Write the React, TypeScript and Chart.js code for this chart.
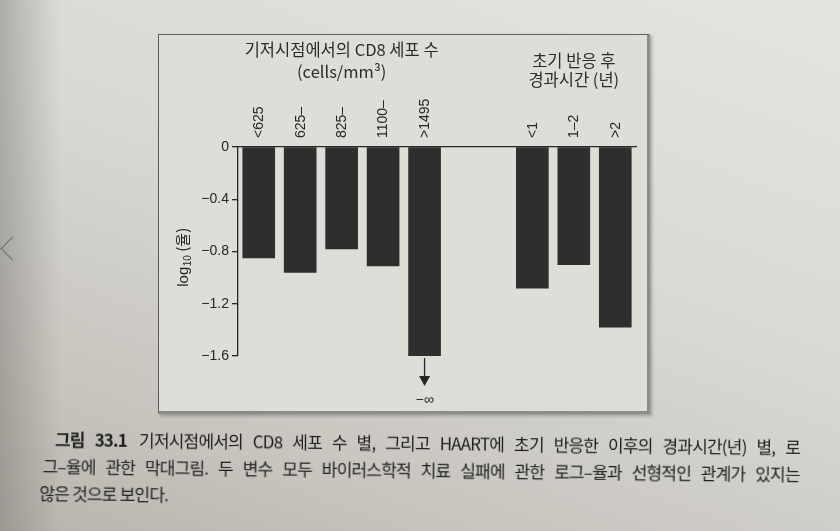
import React, { useEffect, useRef } from 'react';
import { Chart, registerables } from 'chart.js';

Chart.register(...registerables);

// ---- data ----
const cd8Labels = ['<625', '625–', '825–', '1100–', '>1495'];
const cd8Values = [-0.85, -0.96, -0.78, -0.91, -1.6];
const timeLabels = ['<1', '1–2', '>2'];
const timeValues = [-1.08, -0.9, -1.38];
const yTickValues = [0, -0.4, -0.8, -1.2, -1.6];
const cd8Title = ['기저시점에서의 CD8 세포 수', '(cells/mm³)'];
const timeTitle = ['초기 반응 후', '경과시간 (년)'];
const yTitleParts = ['log', '10', ' (율)'];
const infinityLabel = '−∞';
const captionLead = '그림 33.1';
const captionLines = [
  '기저시점에서의 CD8 세포 수 별, 그리고 HAART에 초기 반응한 이후의 경과시간(년) 별, 로',
  '그–율에 관한 막대그림. 두 변수 모두 바이러스학적 치료 실패에 관한 로그–율과 선형적인 관계가 있지는',
  '않은 것으로 보인다.',
];

// layout constant: empty space between the two groups (in bar slots)
const GROUP_GAP = 1.6;
const cd8Pos = cd8Labels.map((_, i) => i);
const timePos = timeLabels.map((_, j) => cd8Labels.length + GROUP_GAP + j);
const allPos = [...cd8Pos, ...timePos];
const allLabels = [...cd8Labels, ...timeLabels];
const allValues = [...cd8Values, ...timeValues];

const fmt = (v: number) => (Math.abs(v) < 1e-9 ? '0' : '−' + Math.abs(v).toFixed(1));

const INK = '#262626';
const BAR = '#2e2e2e';
const SANS = '"Liberation Sans", Arial, sans-serif';
const KR = '"Noto Sans CJK KR", "Noto Sans", sans-serif';

const decorPlugin = {
  id: 'decor',
  afterDraw(chart: any) {
    const { ctx, chartArea } = chart;
    const xs = chart.scales.x;
    const ys = chart.scales.y;
    ctx.save();

    // category labels, rotated, just above the zero line
    ctx.fillStyle = INK;
    ctx.font = `14px ${SANS}`;
    ctx.textAlign = 'left';
    ctx.textBaseline = 'middle';
    allPos.forEach((p, i) => {
      ctx.save();
      ctx.translate(xs.getPixelForValue(p) + 0.5, chartArea.top - 9);
      ctx.rotate(-Math.PI / 2);
      ctx.fillText(allLabels[i], 0, 0);
      ctx.restore();
    });

    // group titles
    ctx.fillStyle = '#2c2c2c';
    ctx.textAlign = 'center';
    ctx.textBaseline = 'middle';
    ctx.font = `16.5px ${KR}`;
    const c1 = xs.getPixelForValue(cd8Pos.reduce((a, b) => a + b, 0) / cd8Pos.length);
    ctx.fillText(cd8Title[0], c1, chartArea.top - 97);
    ctx.fillText(cd8Title[1], c1, chartArea.top - 75);
    const c2 = xs.getPixelForValue(timePos.reduce((a, b) => a + b, 0) / timePos.length);
    ctx.fillText(timeTitle[0], c2, chartArea.top - 86);
    ctx.fillText(timeTitle[1], c2, chartArea.top - 67);

    // y-axis title (rotated)
    ctx.fillStyle = INK;
    ctx.save();
    ctx.translate(chartArea.left - 55, (chartArea.top + chartArea.bottom) / 2 + 6);
    ctx.rotate(-Math.PI / 2);
    ctx.textAlign = 'left';
    ctx.textBaseline = 'alphabetic';
    ctx.font = `15px ${SANS}`;
    const w0 = ctx.measureText(yTitleParts[0]).width;
    ctx.font = `10px ${SANS}`;
    const w1 = ctx.measureText(yTitleParts[1]).width;
    ctx.font = `15px ${KR}`;
    const w2 = ctx.measureText(yTitleParts[2]).width;
    let x = -(w0 + w1 + w2) / 2;
    ctx.font = `15px ${SANS}`;
    ctx.fillText(yTitleParts[0], x, 5);
    x += w0 + 0.5;
    ctx.font = `10px ${SANS}`;
    ctx.fillText(yTitleParts[1], x, 8);
    x += w1;
    ctx.font = `15px ${KR}`;
    ctx.fillText(yTitleParts[2], x, 5);
    ctx.restore();

    // arrow to −∞ below the last CD8 bar
    const idx = cd8Values.length - 1;
    const ax = xs.getPixelForValue(cd8Pos[idx]);
    const ay = ys.getPixelForValue(cd8Values[idx]);
    ctx.strokeStyle = INK;
    ctx.lineWidth = 1.3;
    ctx.beginPath();
    ctx.moveTo(ax, ay + 2);
    ctx.lineTo(ax, ay + 22);
    ctx.stroke();
    ctx.beginPath();
    ctx.moveTo(ax - 5.5, ay + 20);
    ctx.lineTo(ax + 5.5, ay + 20);
    ctx.lineTo(ax, ay + 30);
    ctx.closePath();
    ctx.fill();
    ctx.font = `14px ${SANS}`;
    ctx.textAlign = 'center';
    ctx.textBaseline = 'middle';
    ctx.fillText(infinityLabel, ax, ay + 44);
    ctx.restore();
  },
};

function BarChart() {
  const ref = useRef<HTMLCanvasElement | null>(null);
  useEffect(() => {
    if (!ref.current) return;
    const chart = new Chart(ref.current, {
      type: 'bar',
      data: {
        datasets: [
          {
            data: allPos.map((p, i) => ({ x: p, y: allValues[i] })),
            backgroundColor: BAR,
            borderWidth: 0,
            barThickness: 32,
          },
        ],
      },
      options: {
        responsive: false,
        animation: false,
        events: [],
        layout: { padding: { left: 188, top: 67, right: 204, bottom: 175 } },
        plugins: { legend: { display: false }, tooltip: { enabled: false }, title: { display: false } },
        scales: {
          x: {
            type: 'linear',
            position: 'top',
            offset: false,
            min: allPos[0] - 0.5,
            max: allPos[allPos.length - 1] + 0.5,
            afterBuildTicks: (scale: any) => {
              scale.ticks = allPos.map((v) => ({ value: v }));
            },
            afterFit: (scale: any) => {
              scale.height = 80;
            },
            grid: { display: true, offset: false, drawOnChartArea: false, drawTicks: false, color: INK },
            border: { display: true, color: INK, width: 1.3 },
            ticks: { display: false },
          },
          y: {
            type: 'linear',
            min: yTickValues[yTickValues.length - 1],
            max: yTickValues[0],
            afterBuildTicks: (scale: any) => {
              scale.ticks = yTickValues.map((v) => ({ value: v }));
            },
            afterFit: (scale: any) => {
              scale.width = 50;
            },
            grid: { display: true, drawOnChartArea: false, drawTicks: true, tickLength: 6, color: INK, lineWidth: 1.3 },
            border: { display: true, color: INK, width: 1.3 },
            ticks: {
              padding: 3,
              color: INK,
              font: { family: SANS, size: 14 },
              callback: (v: any) => fmt(Number(v)),
            },
          },
        },
      },
      plugins: [decorPlugin],
    } as any);
    return () => chart.destroy();
  }, []);
  return (
    <canvas
      ref={ref}
      width={840}
      height={531}
      style={{ position: 'absolute', left: 0, top: 0, width: 840, height: 531 }}
    />
  );
}

export default function App() {
  const lineStyle = {
    position: 'absolute' as const,
    whiteSpace: 'nowrap' as const,
    textAlign: 'justify' as const,
    textAlignLast: 'justify' as any,
  };
  return (
    <div
      style={{
        position: 'fixed',
        left: 0,
        top: 0,
        width: 840,
        height: 531,
        overflow: 'hidden',
        background: 'linear-gradient(200deg, #e6e4e0 0%, #dad8d3 45%, #c6c4bd 80%, #b6b4ad 100%)',
      }}
    >
      {/* darker page edge at left */}
      <div
        style={{
          position: 'absolute',
          left: 0,
          top: 0,
          width: 60,
          height: 531,
          background: 'linear-gradient(90deg, rgba(120,118,112,0.45) 0%, rgba(120,118,112,0) 100%)',
        }}
      />
      {/* viewer chevron */}
      <div
        style={{
          position: 'absolute',
          left: 4,
          top: 240,
          width: 16,
          height: 16,
          borderLeft: '1.5px solid #6f6f6f',
          borderBottom: '1.5px solid #6f6f6f',
          transform: 'rotate(45deg)',
        }}
      />
      {/* figure frame */}
      <div
        style={{
          position: 'absolute',
          left: 158,
          top: 34,
          width: 488,
          height: 376,
          background: '#dfddd8',
          borderTop: '1.5px solid #5e5e5e',
          borderLeft: '1.5px solid #5e5e5e',
          borderRight: '3px solid #8d8c88',
          borderBottom: '3px solid #8d8c88',
          boxShadow: '2px 2px 3px rgba(60,60,60,0.35)',
        }}
      />
      <BarChart />
      {/* caption */}
      <div
        style={{
          position: 'absolute',
          left: 0,
          top: 0,
          width: 840,
          height: 531,
          transform: 'rotate(0.6deg)',
          transformOrigin: '40px 440px',
          fontFamily: KR,
          fontSize: 17,
          letterSpacing: '-0.8px',
          color: '#1f1f1f',
          lineHeight: '27px',
        }}
      >
        <div style={{ ...lineStyle, left: 55, top: 425, width: 745 }}>
          <span style={{ fontWeight: 700, marginRight: 12 }}>{captionLead}</span>
          {captionLines[0]}
        </div>
        <div style={{ ...lineStyle, left: 43, top: 452, width: 757 }}>{captionLines[1]}</div>
        <div style={{ position: 'absolute', left: 40, top: 479, whiteSpace: 'nowrap' }}>{captionLines[2]}</div>
      </div>
    </div>
  );
}
